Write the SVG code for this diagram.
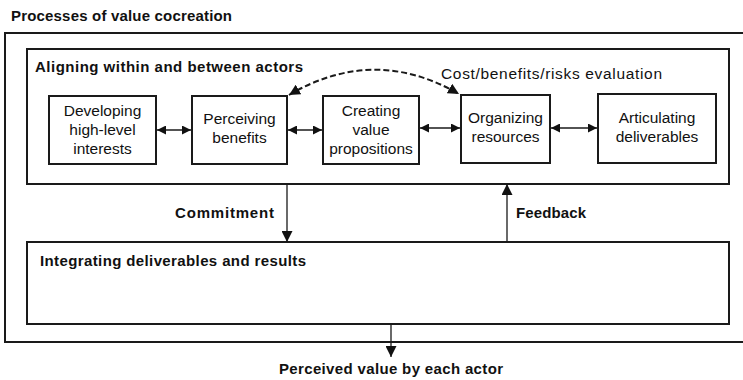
<svg xmlns="http://www.w3.org/2000/svg" width="743" height="380" viewBox="0 0 743 380">
<style>
.box{fill:#fff;stroke:#1a1a1a;stroke-width:2}
.frame{fill:none;stroke:#1a1a1a;stroke-width:2}
.t{font-family:"Liberation Sans",Arial,sans-serif;font-size:15.5px;fill:#111;text-anchor:middle}
.b{font-family:"Liberation Sans",Arial,sans-serif;font-size:15px;font-weight:bold;fill:#111}
.r{font-family:"Liberation Sans",Arial,sans-serif;font-size:15.5px;fill:#111}
.ln{fill:none;stroke:#1a1a1a;stroke-width:1.3}
.dash{fill:none;stroke:#1a1a1a;stroke-width:2;stroke-dasharray:6 3}
</style>
<defs>
<marker id="ah" viewBox="0 0 10 10" refX="10" refY="5" markerWidth="9" markerHeight="9" markerUnits="userSpaceOnUse" orient="auto-start-reverse">
<path d="M0,0 L10,5 L0,10 z" fill="#111"/>
</marker>
<marker id="ahL" viewBox="0 0 10 10" refX="10" refY="5" markerWidth="11" markerHeight="11" markerUnits="userSpaceOnUse" orient="auto-start-reverse">
<path d="M0,0 L10,5 L0,10 z" fill="#111"/>
</marker>
</defs>
<text class="b" x="11" y="21" textLength="221">Processes of value cocreation</text>
<g id="outer"><rect class="frame" x="5" y="33" width="745" height="309"/></g>
<g id="aligning"><rect class="frame" x="27" y="49" width="702" height="135"/>
<text class="b" x="35" y="72" textLength="268">Aligning within and between actors</text></g>
<g id="integrating"><rect class="frame" x="27" y="242" width="702" height="82"/>
<text class="b" x="40" y="266" textLength="266">Integrating deliverables and results</text></g>
<g id="developing"><rect class="box" x="49" y="96" width="107" height="68"/>
<text class="t" x="102.5" y="116">Developing</text><text class="t" x="102.5" y="135">high-level</text><text class="t" x="102.5" y="154">interests</text></g>
<g id="perceiving"><rect class="box" x="192" y="96" width="95" height="68"/>
<text class="t" x="239.5" y="124">Perceiving</text><text class="t" x="239.5" y="143">benefits</text></g>
<g id="creating"><rect class="box" x="323" y="96" width="96" height="68"/>
<text class="t" x="371" y="116">Creating</text><text class="t" x="371" y="135">value</text><text class="t" x="371" y="154">propositions</text></g>
<g id="organizing"><rect class="box" x="461" y="95" width="89" height="68"/>
<text class="t" x="505.5" y="123">Organizing</text><text class="t" x="505.5" y="142">resources</text></g>
<g id="articulating"><rect class="box" x="598" y="94" width="118" height="69"/>
<text class="t" x="657" y="123">Articulating</text><text class="t" x="657" y="142">deliverables</text></g>
<g id="connectors">
<line class="ln" x1="157" y1="130" x2="191" y2="130" marker-start="url(#ah)" marker-end="url(#ah)"/>
<line class="ln" x1="288" y1="130" x2="322" y2="130" marker-start="url(#ah)" marker-end="url(#ah)"/>
<line class="ln" x1="420" y1="128" x2="460" y2="128" marker-start="url(#ah)" marker-end="url(#ah)"/>
<line class="ln" x1="551" y1="128" x2="597" y2="128" marker-start="url(#ah)" marker-end="url(#ah)"/>
<path class="dash" d="M289,95 Q374,45 459,94" marker-start="url(#ahL)" marker-end="url(#ahL)"/>
<line class="ln" x1="287" y1="184" x2="287" y2="242" marker-end="url(#ahL)"/>
<line class="ln" x1="507" y1="242" x2="507" y2="184" marker-end="url(#ahL)"/>
<line class="ln" x1="391" y1="324" x2="391" y2="357" marker-end="url(#ahL)"/>
<text class="r" x="441" y="79" textLength="221">Cost/benefits/risks evaluation</text>
<text class="b" x="175" y="218" textLength="99">Commitment</text>
<text class="b" x="516" y="218" textLength="70">Feedback</text>
</g>
<text class="b" x="279" y="374" textLength="224">Perceived value by each actor</text>
</svg>
